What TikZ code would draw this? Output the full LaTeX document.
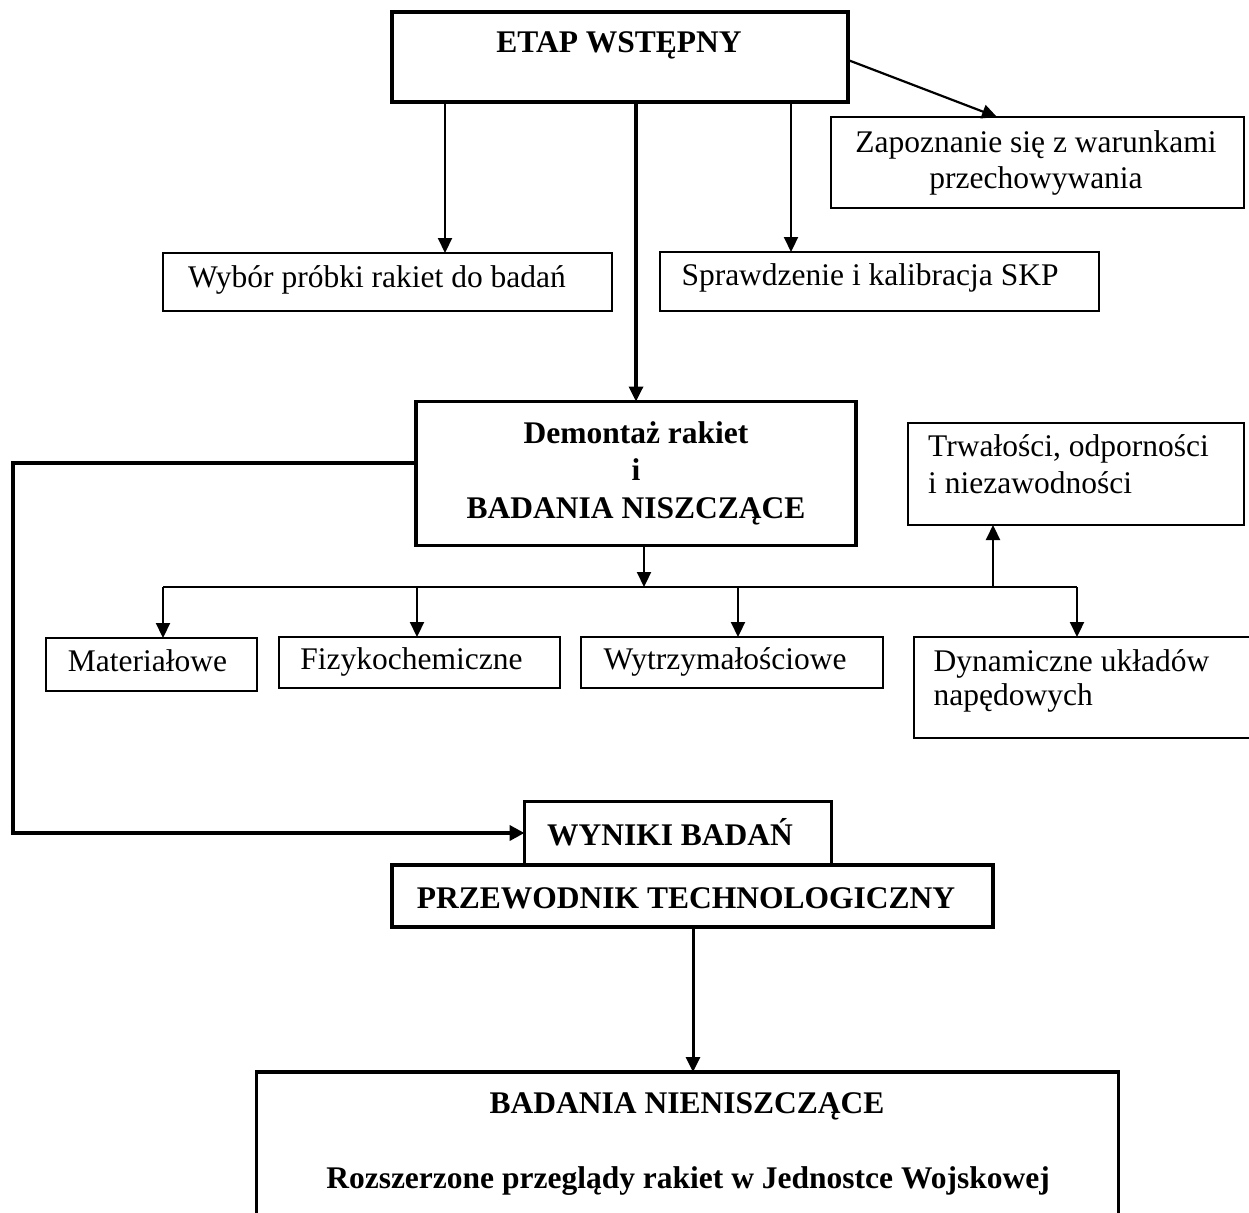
\documentclass[tikz,border=0pt]{standalone}
\usepackage{fontspec}
\setmainfont{Liberation Serif}
\usetikzlibrary{arrows.meta}
\begin{document}
\begin{tikzpicture}[x=1pt,y=-1pt,
  box/.style={draw, line width=2pt, inner sep=0pt, outer sep=0pt},
  bbox/.style={draw, line width=3.5pt, inner sep=0pt, outer sep=0pt},
  txt/.style={inner sep=0pt, anchor=base, font=\fontsize{31.5pt}{38pt}\selectfont},
  btxt/.style={txt, font=\fontsize{31.5pt}{38pt}\selectfont\bfseries},
  arr/.style={line width=2.2pt, -{Triangle[length=15pt,width=14pt]}},
]
\clip (0,0) rectangle (1249,1212);
% boxes
\node[bbox, minimum width=456pt, minimum height=90pt] (etap) at (620,57) {};
\node[box, minimum width=413pt, minimum height=91pt] (zap) at (1037.5,162.5) {};
\node[box, minimum width=449pt, minimum height=58pt] (wyb) at (387,282) {};
\node[box, minimum width=439pt, minimum height=59pt] (spr) at (879.5,281.5) {};
\node[bbox, minimum width=440pt, minimum height=144pt] (dem) at (636,473.5) {};
\node[box, minimum width=336pt, minimum height=102pt] (trw) at (1076,474) {};
\node[box, minimum width=211pt, minimum height=53pt] (mat) at (151,664.5) {};
\node[box, minimum width=281pt, minimum height=51pt] (fiz) at (419.5,662.5) {};
\node[box, minimum width=302pt, minimum height=51pt] (wyt) at (731.5,662.5) {};
\node[box, minimum width=345pt, minimum height=101pt] (dyn) at (1086,687.5) {};
\node[bbox, minimum width=307pt, minimum height=63pt] (wyn) at (678,833) {};
\node[bbox, minimum width=601pt, minimum height=62pt] (prz) at (692.5,896) {};
\node[bbox, minimum width=862pt, minimum height=180pt] (bad) at (687.5,1162) {};
% texts
\node[btxt] (tetap) at (619,53) {ETAP WSTĘPNY};
\node[txt] (tzap1) at (1036,152) {Zapoznanie się z warunkami};
\node[txt] (tzap2) at (1036,188) {przechowywania};
\node[txt] (twyb) at (377,287) {Wybór próbki rakiet do badań};
\node[txt] (tspr) at (870,285) {Sprawdzenie i kalibracja SKP};
\node[btxt] (tdem1) at (636,443) {Demontaż rakiet};
\node[btxt] (tdem2) at (636,480) {i};
\node[btxt] (tdem3) at (636,518) {BADANIA NISZCZĄCE};
\node[txt, anchor=base west] (ttrw1) at (928,456) {Trwałości, odporności};
\node[txt, anchor=base west] (ttrw2) at (928,493) {i niezawodności};
\node[txt] (tmat) at (147.5,671) {Materiałowe};
\node[txt] (tfiz) at (411.5,669) {Fizykochemiczne};
\node[txt] (twyt) at (725,669) {Wytrzymałościowe};
\node[txt, anchor=base west] (tdyn1) at (933.5,671) {Dynamiczne układów};
\node[txt, anchor=base west] (tdyn2) at (933.5,705) {napędowych};
\node[btxt] (twyn) at (670,845) {WYNIKI BADAŃ};
\node[btxt] (tprz) at (686,908) {PRZEWODNIK TECHNOLOGICZNY};
\node[btxt] (tbad1) at (687,1113) {BADANIA NIENISZCZĄCE};
\node[btxt] (tbad2) at (688,1188) {Rozszerzone przeglądy rakiet w Jednostce Wojskowej};
% helper coordinates
\coordinate (xa) at (445,0);
\coordinate (xb) at (636,0);
\coordinate (xc) at (791,0);
\coordinate (xz) at (997,0);
\coordinate (xp) at (693,0);
\coordinate (bd) at (644,587);
\coordinate (b1) at (163,587);
\coordinate (b2) at (417,587);
\coordinate (b3) at (738,587);
\coordinate (b4) at (993,587);
\coordinate (b5) at (1077,587);
\coordinate (yl) at (0,463);
\coordinate (xl) at (13,0);
% connectors
\draw[arr] (etap.south -| xa) -- (wyb.north -| xa);
\draw[arr, line width=3.3pt] (etap.south -| xb) -- (dem.north -| xb);
\draw[arr] (etap.south -| xc) -- (spr.north -| xc);
\draw[arr] ([yshift=-3pt]etap.east) -- (zap.north -| xz);
\draw[arr] (dem.south -| bd) -- (bd);
\draw[line width=2.2pt] (b1) -- (b5);
\draw[arr] (b1) -- (mat.north -| b1);
\draw[arr] (b2) -- (fiz.north -| b2);
\draw[arr] (b3) -- (wyt.north -| b3);
\draw[arr] (b5) -- (dyn.north -| b5);
\draw[arr] (b4) -- (trw.south -| b4);
\draw[line width=4.5pt, -{Triangle[length=15pt,width=15pt]}] (dem.west |- yl) -| (xl |- wyn.west) -- (wyn.west);
\draw[arr, line width=3pt] (prz.south -| xp) -- (bad.north -| xp);
\end{tikzpicture}
\end{document}
